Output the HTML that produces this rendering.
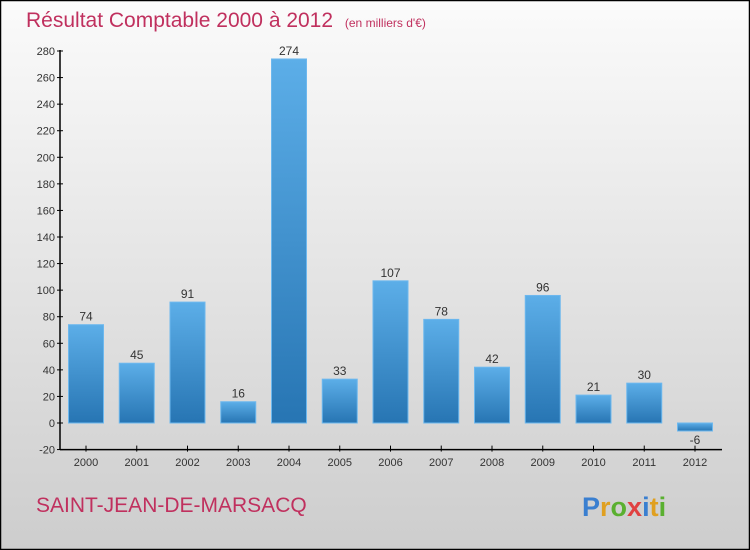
<!DOCTYPE html>
<html><head><meta charset="utf-8"><style>
body{margin:0}
#c{width:750px;height:550px;position:relative;overflow:hidden;font-family:"Liberation Sans",sans-serif}
</style></head><body>
<div id="c">
<svg id="s" width="750" height="550" xmlns="http://www.w3.org/2000/svg">
<defs>
<linearGradient id="bg" x1="0" y1="0" x2="0" y2="1"><stop offset="0" stop-color="#fbfbfb"/><stop offset="1" stop-color="#cdcdcd"/></linearGradient>
<linearGradient id="bar" x1="0" y1="0" x2="0" y2="1"><stop offset="0" stop-color="#5caee8"/><stop offset="1" stop-color="#2775b3"/></linearGradient>
</defs>
<rect x="0.5" y="0.5" width="749" height="549" fill="url(#bg)" stroke="#000" stroke-width="1.5"/>
<text x="26" y="27" font-size="21" fill="#c0305e">Résultat Comptable 2000 à 2012 <tspan font-size="12" dx="6">(en milliers d'€)</tspan></text>
<g id="axes"></g>
<g id="bars"></g>
<text x="36" y="512" font-size="21" fill="#c0305e">SAINT-JEAN-DE-MARSACQ</text>
<text x="582" y="516" font-size="27" font-weight="bold" font-family="Liberation Sans, sans-serif"><tspan fill="#3a7fd0">P</tspan><tspan fill="#e0a020">r</tspan><tspan fill="#5ab030">o</tspan><tspan fill="#e04040">x</tspan><tspan fill="#3a7fd0">i</tspan><tspan fill="#e0a020">t</tspan><tspan fill="#5ab030">i</tspan></text>
</svg>
</div>
<script>
const categories=["2000","2001","2002","2003","2004","2005","2006","2007","2008","2009","2010","2011","2012"];
const values=[74,45,91,16,274,33,107,78,42,96,21,30,-6];
const yTicks=[-20,0,20,40,60,80,100,120,140,160,180,200,220,240,260,280];
const NS="http://www.w3.org/2000/svg";
const y0=423,k=(423-51)/280;
function yS(v){return y0-v*k;}
function xS(i){return 86+i*50.75;}
const ax=document.getElementById('axes'),bs=document.getElementById('bars');
function mk(tag,attrs,parent){const e=document.createElementNS(NS,tag);for(const a in attrs)e.setAttribute(a,attrs[a]);parent.appendChild(e);return e;}
const yl=mk('line',{x1:60,y1:yS(280)-1,x2:60,y2:yS(-20),stroke:'#000','stroke-width':1.5},ax);


const xl=mk('line',{x1:60,y1:yS(-20),x2:722,y2:yS(-20),stroke:'#000','stroke-width':1.5},ax);


yTicks.forEach(t=>{
  mk('line',{x1:57,x2:63,y1:yS(t),y2:yS(t),stroke:'#000'},ax);
  const tx=mk('text',{x:55,y:yS(t)+4,'text-anchor':'end','font-size':11,fill:'#333'},ax);
  tx.textContent=t;
  
  
});
categories.forEach((c,i)=>{
  const x=xS(i);
  mk('line',{x1:x,x2:x,y1:yS(-20)-4,y2:yS(-20)+2,stroke:'#000'},ax);
  const tx=mk('text',{x:x,y:466,'text-anchor':'middle','font-size':11,fill:'#333'},ax);
  tx.textContent=c;
  
  
  const v=values[i];
  const top=Math.min(yS(v),yS(0)),h=Math.abs(yS(v)-yS(0));
  const r=mk('rect',{x:x-17.5,y:top,width:35,height:Math.max(h,1),fill:'url(#bar)',stroke:'#6db8ee','stroke-width':1},bs);
  
  
  const lb=mk('text',{x:x,y:v>=0?yS(v)-4:yS(v)+13,'text-anchor':'middle','font-size':12,fill:'#333'},bs);
  lb.textContent=v;
  
  
});
</script>
</body></html>
